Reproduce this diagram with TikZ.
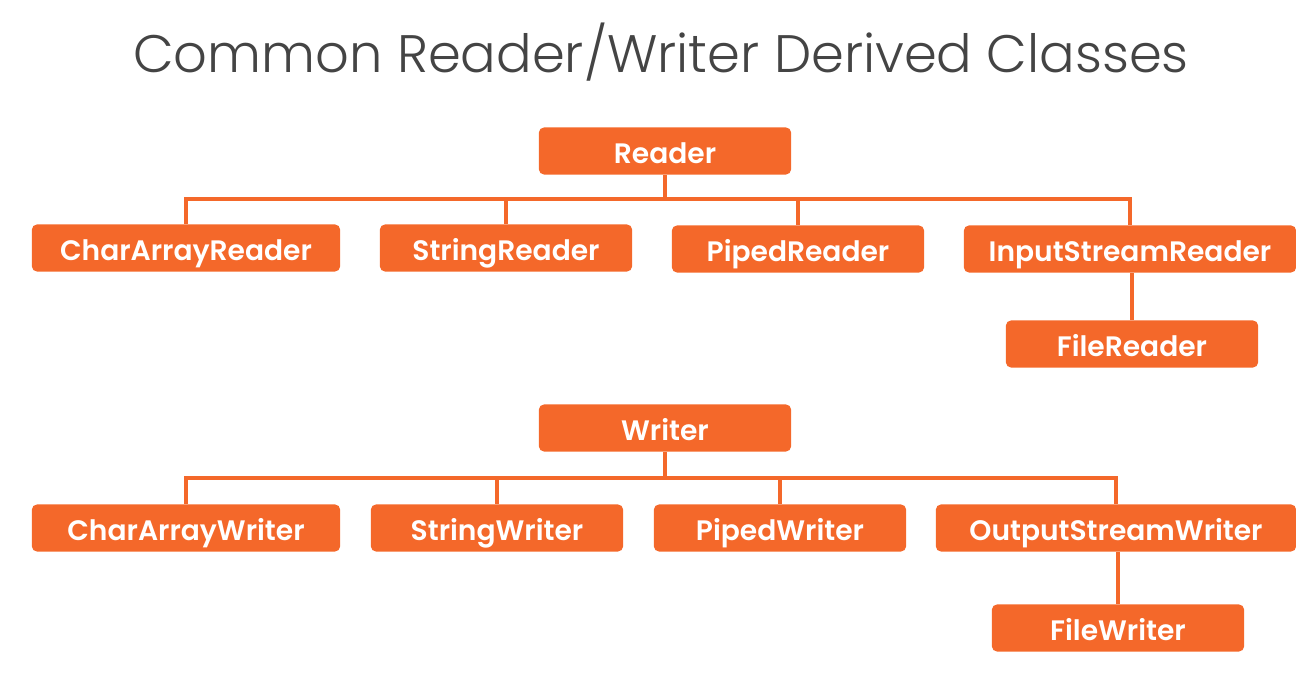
\documentclass[tikz,border=0pt]{standalone}
\usepackage{fontspec}
\setmainfont{Poppins}[BoldFont={* SemiBold}]
\newfontfamily\titlefont{Poppins}[UprightFont={* Light}]
\usetikzlibrary{positioning}
\definecolor{class orange}{RGB}{244,104,42}
\definecolor{title gray}{RGB}{68,68,68}
\tikzset{
    % Boxes
    class box/.style={fill=class orange,rounded corners=0.05cm,inner sep=0pt,
        minimum height=0.47cm,minimum width=#1,text=white,
        text height=0.7em,text depth=0pt,
        font=\bfseries\fontsize{8}{9}\selectfont},
    class box/.default=2.52cm,
    %
    % Connectors
    link/.style={draw=class orange,line width=0.9pt},
    %
    % Title
    heading/.style={text=title gray,font=\titlefont\fontsize{15}{18}\selectfont}
}

\begin{document}
\begin{tikzpicture}[x=0.01cm,y=-0.01cm]
    \useasboundingbox (0,0) rectangle (1296,686);
    \node[heading] (title) at (661,52) {Common Reader/Writer Derived Classes};

    % Reader family
    \node[class box] (reader) at (665,151) {Reader};
    \node[class box=3.08cm] (car) at (186,248) {CharArrayReader};
    \node[class box] (sr) at (506,248) {StringReader};
    \node[class box] (pr) at (798,249) {PipedReader};
    \node[class box=3.32cm] (isr) at (1130,249) {InputStreamReader};
    \node[class box] (fr) at (1132,344) {FileReader};
    \coordinate (rbus) at (665,199);
    \draw[link] (reader) -- (rbus);
    \foreach \c in {car,sr,pr,isr}
        \draw[link] (rbus) -| (\c.north);
    \draw[link] (isr.south -| fr.north) -- (fr.north);

    % Writer family
    \node[class box] (writer) at (665,428) {Writer};
    \node[class box=3.08cm] (caw) at (186,528) {CharArrayWriter};
    \node[class box] (sw) at (497,528) {StringWriter};
    \node[class box] (pw) at (780,528) {PipedWriter};
    \node[class box=3.6cm] (osw) at (1116,528) {OutputStreamWriter};
    \node[class box] (fw) at (1118,628) {FileWriter};
    \coordinate (wbus) at (665,478);
    \draw[link] (writer) -- (wbus);
    \foreach \c in {caw,sw,pw,osw}
        \draw[link] (wbus) -| (\c.north);
    \draw[link] (osw.south -| fw.north) -- (fw.north);
\end{tikzpicture}
\end{document}
